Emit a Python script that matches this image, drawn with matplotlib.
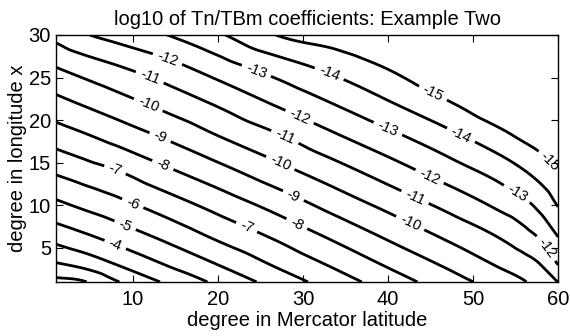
import numpy as np
import matplotlib
matplotlib.use("Agg")
import matplotlib.pyplot as plt
import matplotlib.tri as mtri

plt.rcParams['font.family'] = ['Liberation Sans', 'DejaVu Sans']

# Grid of log10 values
x_lat = [1, 4, 8, 14, 20, 27, 34, 41, 48, 53, 56, 58, 60]
y_lon = [1, 3, 6, 10, 14, 18, 22, 26, 30]
z_y1  = [-0.70, -0.90, -1.91, -3.15, -4.22, -5.41, -6.55, -7.63, -8.69, -9.46, -9.94, -10.46, -11.02]
z_y3  = [-1.86, -2.22, -2.98, -4.04, -5.00, -6.13, -7.19, -8.26, -9.30, -10.09, -10.56, -11.01, -12.00]
z_y6  = [-3.25, -3.66, -4.25, -5.14, -6.07, -7.07, -8.13, -9.19, -10.21, -10.94, -11.52, -12.04, -12.91]
z_y10 = [-4.77, -5.16, -5.65, -6.49, -7.35, -8.35, -9.41, -10.40, -11.40, -12.19, -12.73, -13.30, -14.05]
z_y14 = [-6.15, -6.50, -6.95, -7.83, -8.66, -9.66, -10.63, -11.63, -12.64, -13.38, -13.96, -14.42, -14.95]
z_y18 = [-7.45, -7.81, -8.33, -9.11, -9.95, -10.86, -11.88, -12.83, -13.83, -14.63, -15.18, -15.51, -15.86]
z_y22 = [-8.70, -9.08, -9.58, -10.35, -11.14, -12.14, -13.09, -14.05, -15.06, -15.93, -16.40, -16.60, -16.80]
z_y26 = [-9.94, -10.34, -10.83, -11.57, -12.44, -13.40, -14.28, -15.15, -16.28, -17.20, -17.60, -17.70, -17.70]
z_y30 = [-11.33, -11.88, -12.35, -13.00, -13.86, -15.03, -15.55, -16.30, -17.50, -18.50, -18.80, -18.80, -18.60]
levels = list(range(-15, 0))

# where MATLAB placed the inline labels (layout)
label_pos = [(14.1, 27.3), (12.0, 25.1), (11.8, 21.8), (13.2, 18.0), (13.5, 14.7),
             (7.9, 14.2), (10.0, 10.3), (9.1, 7.7), (7.9, 5.35),
             (24.55, 25.9), (29.6, 20.4), (27.9, 18.1), (27.3, 14.9), (28.9, 11.2),
             (29.3, 7.9), (23.4, 7.5),
             (33.1, 25.5), (45.3, 23.2), (40.0, 19.05), (48.6, 18.3), (44.9, 13.4),
             (43.2, 11.0), (42.6, 7.9),
             (59.25, 15.3), (55.3, 11.6), (58.9, 5.15)]

Z = np.array([z_y1, z_y3, z_y6, z_y10, z_y14, z_y18, z_y22, z_y26, z_y30])
GX, GY = np.meshgrid(x_lat, y_lon)
tri = mtri.Triangulation(GX.ravel(), GY.ravel())
interp = mtri.CubicTriInterpolator(tri, Z.ravel(), kind='geom')
fx = np.linspace(1.0001, 59.9999, 400)
fy = np.linspace(1.0001, 29.9999, 240)
FX, FY = np.meshgrid(fx, fy)
FZ = interp(FX, FY)

fig = plt.figure(figsize=(5.70, 3.36), dpi=100)
ax = fig.add_axes([0.0991, 0.161, 0.880, 0.735])
cs = ax.contour(FX, FY, FZ, levels=levels, colors='black', linewidths=2.0,
                linestyles='solid', negative_linestyles='solid')
ax.clabel(cs, fmt='%d', manual=label_pos, inline=True, inline_spacing=5, fontsize=10.5)

ax.set_xlim(1, 60)
ax.set_ylim(1, 30)
ax.set_xticks([10, 20, 30, 40, 50, 60])
ax.set_yticks([5, 10, 15, 20, 25, 30])
ax.tick_params(direction='in', top=True, right=True, length=5, width=0.8,
               labelsize=14.5)
ax.tick_params(axis='x', pad=6)
ax.tick_params(axis='y', pad=4)
for s in ax.spines.values():
    s.set_linewidth(1.0)
ax.set_title('log10 of Tn/TBm coefficients: Example Two', fontsize=14.5, pad=7)
ax.set_xlabel('degree in Mercator latitude', fontsize=14.5, labelpad=1)
ax.set_ylabel('degree in longitude x', fontsize=14.5, labelpad=1)
fig.savefig('out.png', dpi=100)
